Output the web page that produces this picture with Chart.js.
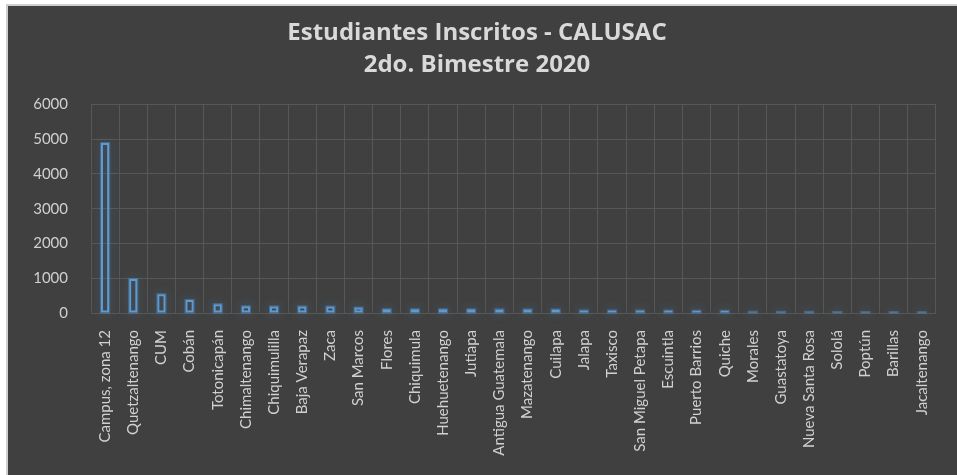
<!DOCTYPE html>
<html lang="es">

<head>
  <meta charset="UTF-8">
  <title>Estudiantes Inscritos - CALUSAC</title>
  <script src="https://cdn.jsdelivr.net/npm/chart.js@4.4.0/dist/chart.umd.min.js"></script>
  <style>
    html, body { margin: 0; padding: 0; background: #ffffff; overflow: hidden; }
    #frame {
      position: absolute; left: 6px; top: 4px;
      width: 949px; height: 469px;
      border-left: 2px solid #cfcfcf; border-top: 2px solid #cfcfcf;
      background: #404040;
    }
  </style>
</head>

<script>
  const sedes = [
    "Campus, zona 12", "Quetzaltenango", "CUM", "Cobán", "Totonicapán", "Chimaltenango",
    "Chiquimulilla", "Baja Verapaz", "Zaca", "San Marcos", "Flores", "Chiquimula",
    "Huehuetenango", "Jutiapa", "Antigua Guatemala", "Mazatenango", "Cuilapa", "Jalapa",
    "Taxisco", "San Miguel Petapa", "Escuintla", "Puerto Barrios", "Quiche", "Morales",
    "Guastatoya", "Nueva Santa Rosa", "Sololá", "Poptún", "Barillas", "Jacaltenango"
  ];
  const inscritos = [
    4890, 975, 540, 375, 255, 195,
    190, 190, 185, 155, 110, 108,
    106, 105, 104, 103, 100, 75,
    74, 72, 70, 68, 65, 38,
    36, 34, 32, 30, 28, 26
  ];
  const titulo = ["Estudiantes Inscritos - CALUSAC", "2do. Bimestre 2020"];

  // brillo azul alrededor de las barras (efecto "glow" de Excel)
  const glow = {
    id: "glow",
    beforeDatasetsDraw(chart) {
      const ctx = chart.ctx;
      chart.getDatasetMeta(0).data.forEach(bar => {
        const p = bar.getProps(["x", "y", "base", "width"], true);
        ctx.save();
        ctx.shadowColor = "rgba(91,155,213,0.9)";
        ctx.shadowBlur = 10;
        ctx.strokeStyle = "rgba(91,155,213,0.4)";
        ctx.lineWidth = 2;
        ctx.strokeRect(p.x - p.width / 2, p.y, p.width, p.base - p.y);
        ctx.restore();
      });
    }
  };

  window.onload = () => {
    new Chart(document.getElementById("grafica"), {
      type: "bar",
      data: {
        labels: sedes,
        datasets: [{
          label: "Inscritos",
          data: inscritos,
          backgroundColor: "rgba(0,0,0,0)",
          borderColor: "#5b9bd5",
          borderWidth: 2,
          borderSkipped: false,
          categoryPercentage: 1,
          barPercentage: 0.29
        }]
      },
      plugins: [glow],
      options: {
        responsive: false,
        animation: false,
        events: [],
        layout: { padding: { left: 0, right: 11, top: 0, bottom: 0 } },
        plugins: {
          legend: { display: false },
          tooltip: { enabled: false },
          title: {
            display: true,
            text: titulo,
            color: "#d9d9d9",
            font: { family: "Open Sans", size: 24, weight: "bold", lineHeight: 1.3 },
            padding: { top: 12, bottom: 24 }
          }
        },
        scales: {
          x: {
            grid: { color: "#575757", drawTicks: false },
            border: { color: "#575757" },
            ticks: {
              color: "#d0d0d0",
              font: { family: "Lato", size: 15 },
              autoSkip: false,
              maxRotation: 90,
              minRotation: 90,
              padding: 17
            },
            afterFit: s => { s.height = 162; }
          },
          y: {
            min: 0,
            max: 6000,
            grid: { color: "#575757", drawTicks: false },
            border: { display: false },
            ticks: {
              stepSize: 1000,
              color: "#d0d0d0",
              font: { family: "Lato", size: 15 },
              padding: 23,
              callback: v => String(v)
            },
            afterFit: s => { s.width = 83; }
          }
        }
      }
    });
  };
</script>

<body>
  <div id="frame">
    <canvas id="grafica" width="949" height="469"></canvas>
  </div>
</body>

</html>
